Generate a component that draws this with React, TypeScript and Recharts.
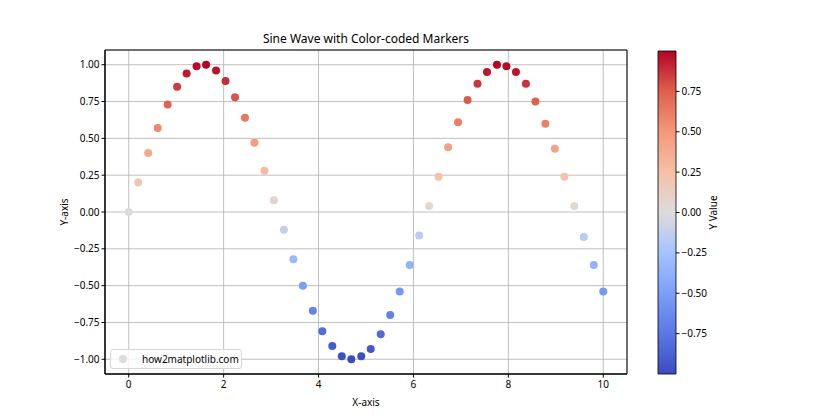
import React from "react";
import {
  ScatterChart,
  Scatter,
  XAxis,
  YAxis,
  CartesianGrid,
  Legend,
  ReferenceArea,
  ComposedChart,
  Label,
} from "recharts";

// ---- data ----
const xValues = [
  0.0, 0.2, 0.41, 0.61, 0.82, 1.02, 1.22, 1.43, 1.63, 1.84, 2.04, 2.24, 2.45,
  2.65, 2.86, 3.06, 3.27, 3.47, 3.67, 3.88, 4.08, 4.29, 4.49, 4.69, 4.9, 5.1,
  5.31, 5.51, 5.71, 5.92, 6.12, 6.33, 6.53, 6.73, 6.94, 7.14, 7.35, 7.55, 7.76,
  7.96, 8.16, 8.37, 8.57, 8.78, 8.98, 9.18, 9.39, 9.59, 9.8, 10.0,
];
const yValues = [
  0.0, 0.2, 0.4, 0.57, 0.73, 0.85, 0.94, 0.99, 1.0, 0.96, 0.89, 0.78, 0.64,
  0.47, 0.28, 0.08, -0.12, -0.32, -0.5, -0.67, -0.81, -0.91, -0.98, -1.0,
  -0.98, -0.93, -0.83, -0.7, -0.54, -0.36, -0.16, 0.04, 0.24, 0.44, 0.61, 0.76,
  0.87, 0.95, 1.0, 0.99, 0.95, 0.87, 0.75, 0.6, 0.43, 0.24, 0.04, -0.17, -0.36,
  -0.54,
];
const xTicks = [0, 2, 4, 6, 8, 10];
const yTicks = [-1, -0.75, -0.5, -0.25, 0, 0.25, 0.5, 0.75, 1];
const cbarTicks = [-0.75, -0.5, -0.25, 0, 0.25, 0.5, 0.75];
const seriesName = "how2matplotlib.com";

const data = xValues.map((x, i) => ({ x, y: yValues[i] }));
const vMin = Math.min(...yValues);
const vMax = Math.max(...yValues);

// coolwarm colormap anchors
const cwStops: [number, string][] = [
  [0, "#3b4cc0"],
  [0.125, "#5a78e4"],
  [0.25, "#7b9ff9"],
  [0.375, "#a5c3fe"],
  [0.5, "#dddcdc"],
  [0.625, "#f5c0a7"],
  [0.75, "#f4987a"],
  [0.875, "#de604d"],
  [1, "#b40426"],
];
const hex = (h: string) => [
  parseInt(h.slice(1, 3), 16),
  parseInt(h.slice(3, 5), 16),
  parseInt(h.slice(5, 7), 16),
];
const coolwarm = (t: number) => {
  const tt = Math.max(0, Math.min(1, t));
  for (let i = 0; i < cwStops.length - 1; i++) {
    const [a, ca] = cwStops[i];
    const [b, cb] = cwStops[i + 1];
    if (tt <= b) {
      const f = (tt - a) / (b - a);
      const A = hex(ca);
      const B = hex(cb);
      const c = A.map((v, k) => Math.round(v + (B[k] - v) * f));
      return `rgb(${c[0]},${c[1]},${c[2]})`;
    }
  }
  return cwStops[cwStops.length - 1][1];
};
const colorFor = (v: number) => coolwarm((v - vMin) / (vMax - vMin));

const FONT = "'Noto Sans', 'DejaVu Sans', sans-serif";
const fmt2 = (v: number) => (v < 0 ? "\u2212" + Math.abs(v).toFixed(2) : v.toFixed(2));

const Dot = (props: any) => {
  const { cx, cy, payload } = props;
  if (cx == null || cy == null) return null;
  const v = payload && typeof payload.y === "number" ? payload.y : 0;
  return <circle cx={cx} cy={cy} r={4} fill={colorFor(v)} />;
};

const LegendBox = () => (
  <div
    style={{
      width: 132,
      height: 20,
      border: "1px solid #d6d6d6",
      borderRadius: 3,
      background: "rgba(255,255,255,0.8)",
      display: "flex",
      alignItems: "center",
      fontFamily: FONT,
      fontSize: 10,
      color: "#000",
      boxSizing: "border-box",
    }}
  >
    <svg width={30} height={18} style={{ display: "block" }}>
      <circle cx={12} cy={9} r={4} fill={colorFor(0)} />
    </svg>
    <span style={{ marginLeft: 1, lineHeight: "12px" }}>{seriesName}</span>
  </div>
);

export default function App() {
  return (
    <div style={{ position: "absolute", left: 0, top: 0, width: 840, height: 420, background: "#fff" }}>
      <div
        style={{
          position: "absolute",
          left: 105,
          width: 522,
          top: 31,
          textAlign: "center",
          fontFamily: FONT,
          fontSize: 12,
          color: "#000",
          lineHeight: "16px",
        }}
      >
        Sine Wave with Color-coded Markers
      </div>
      <div style={{ position: "absolute", left: 0, top: 0 }}>
        <ScatterChart
          width={840}
          height={420}
          margin={{ top: 50, right: 213, left: 0, bottom: 0 }}
          style={{ fontFamily: FONT }}
        >
          <XAxis
            type="number"
            dataKey="x"
            domain={[-0.5, 10.5]}
            ticks={xTicks}
            height={46}
            tickSize={3.5}
            tickMargin={3}
            stroke="#000"
            tick={{ fill: "#000", fontSize: 10 }}
            tickFormatter={(v: number) => String(v)}
            allowDataOverflow
          >
            <Label value="X-axis" position="insideBottom" offset={14} fill="#000" fontSize={10} />
          </XAxis>
          <YAxis
            type="number"
            dataKey="y"
            domain={[-1.1, 1.1]}
            ticks={yTicks}
            width={105}
            tickSize={3.5}
            tickMargin={2}
            stroke="#000"
            tick={{ fill: "#000", fontSize: 10 }}
            tickFormatter={fmt2}
            allowDataOverflow
          >
            <Label value="Y-axis" angle={-90} position="insideLeft" offset={64} fill="#000" fontSize={10} style={{ textAnchor: "middle" }} />
          </YAxis>
          <Scatter data={data} name={seriesName} shape={<Dot />} isAnimationActive={false} />
          <CartesianGrid stroke="#b0b0b0" strokeWidth={0.8} />
          <ReferenceArea x1={-0.5} x2={10.5} y1={-1.1} y2={1.1} fill="none" stroke="#000" strokeWidth={1} ifOverflow="visible" />
          <Legend
            layout="horizontal"
            verticalAlign="middle"
            align="center"
            content={<LegendBox />}
            wrapperStyle={{ position: "absolute", left: 110, top: 349, width: 132, height: 20 }}
          />
        </ScatterChart>
      </div>
      <div style={{ position: "absolute", left: 0, top: 0, pointerEvents: "none" }}>
        <ComposedChart
          width={840}
          height={420}
          data={[{ x: 0 }]}
          margin={{ top: 51, right: 104, left: 658, bottom: 46 }}
          style={{ fontFamily: FONT }}
        >
          <defs>
            <linearGradient id="cwGrad" x1="0" y1="1" x2="0" y2="0">
              {cwStops.map(([o, c]) => (
                <stop key={o} offset={`${o * 100}%`} stopColor={c} />
              ))}
            </linearGradient>
          </defs>
          <XAxis type="number" dataKey="x" domain={[0, 1]} hide />
          <YAxis
            yAxisId="c"
            orientation="right"
            type="number"
            domain={[vMin, vMax]}
            ticks={cbarTicks}
            width={60}
            axisLine={false}
            tickSize={3.5}
            tickMargin={2}
            stroke="#000"
            tick={{ fill: "#000", fontSize: 10 }}
            tickFormatter={fmt2}
            allowDataOverflow
          >
            <Label value="Y Value" angle={-90} position="insideRight" offset={23} fill="#000" fontSize={10} style={{ textAnchor: "middle" }} />
          </YAxis>
          <ReferenceArea
            yAxisId="c"
            x1={0}
            x2={1}
            y1={vMin}
            y2={vMax}
            fill="url(#cwGrad)"
            fillOpacity={1}
            stroke="#000"
            strokeWidth={0.8}
            ifOverflow="visible"
          />
        </ComposedChart>
      </div>
    </div>
  );
}
